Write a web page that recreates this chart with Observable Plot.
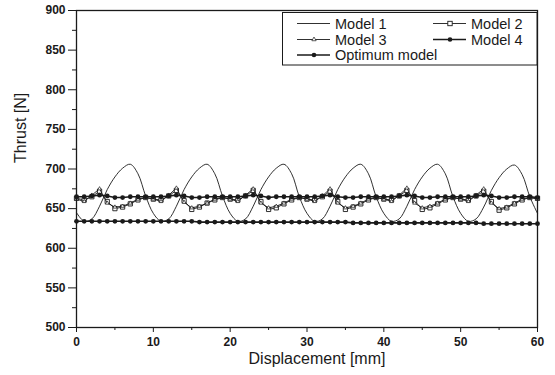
<!DOCTYPE html>
<html><head><meta charset="utf-8">
<script src="https://cdn.jsdelivr.net/npm/d3@7"></script>
<script src="https://cdn.jsdelivr.net/npm/@observablehq/plot@0.6"></script>
<style>
body{margin:0;background:#fff}
#chart{position:relative;width:555px;height:375px}
svg{font-family:"Liberation Sans",Arial,sans-serif}
</style>
</head><body><div id="chart"></div>
<script>
// Displacement grid [mm]
const displacement = d3.range(0, 61);
// Thrust [N]
const model1 = [645,634,637,653,674,690,701,706,694,666,
                644,634,637,653,674,690,701,706,694,666,
                644,634,637,653,674,690,701,706,694,665,
                644,634,637,653,674,690,701,706,694,665,
                644,634,637,653,674,690,701,706,694,665,
                644,634,637,652,673,689,700,705,693,665,
                644];
const model2 = [663,661,665,672,659,650,652,656,661,664,
                662,661,666,673,660,649,652,657,661,664,
                662,661,666,673,659,649,651,656,661,664,
                662,661,665,672,659,649,652,656,661,664,
                662,661,666,673,660,649,651,656,661,664,
                662,661,666,672,659,648,651,656,661,664,
                663];
const model3 = [662,659,667,675,657,652,653,657,662,664,
                662,659,667,676,658,651,653,657,662,664,
                662,659,667,675,657,651,653,657,662,664,
                662,659,666,675,657,651,653,657,662,664,
                662,659,667,676,657,651,653,657,662,664,
                662,659,667,675,657,650,652,657,662,664,
                662];
const model4 = [665,665,666,667,666,664,664,665,665,665,
                665,665,666,667,666,664,664,665,665,665,
                665,665,666,667,666,664,665,665,665,665,
                665,665,666,667,665,664,664,665,665,665,
                665,665,666,667,666,664,664,665,665,665,
                665,665,666,667,666,664,664,665,665,665,
                664];
const optimum = [634,634,634,634,634,634,634,634,634,634,
                 634,634,634,634,634,634,633,633,633,633,
                 633,633,633,633,633,633,633,633,633,633,
                 633,633,633,633,633,633,632,632,632,632,
                 632,632,632,632,632,632,632,632,632,632,
                 632,632,632,631,631,631,631,631,631,631,
                 631];
const seriesNames = ["Model 1","Model 2","Model 3","Model 4","Optimum model"];
const yTicks = [500,550,600,650,700,750,800,850,900];
const yMinor = [525,575,625,675,725,775,825,875];
const xTicks = [0,10,20,30,40,50,60];
const xMinor = [5,15,25,35,45,55];

const rows = (name, vals) => displacement.map((x, i) => ({series: name, x, y: vals[i]}));
const r1 = rows(seriesNames[0], model1);
const r2 = rows(seriesNames[1], model2);
const r3 = rows(seriesNames[2], model3);
const r4 = rows(seriesNames[3], model4);
const r5 = rows(seriesNames[4], optimum);

const ink = "#1a1a1a";
const chart = Plot.plot({
  width: 555, height: 375,
  marginLeft: 76, marginRight: 18, marginTop: 10, marginBottom: 48,
  style: {fontFamily: '"Liberation Sans", Arial, sans-serif', background: "white", color: ink},
  x: {domain: [0, 60]},
  y: {domain: [500, 900]},
  marks: [
    Plot.line(r1, {x: "x", y: "y", stroke: ink, strokeWidth: 0.9, curve: "catmull-rom"}),
    Plot.line(r2, {x: "x", y: "y", stroke: ink, strokeWidth: 0.9}),
    Plot.dot(r2, {x: "x", y: "y", symbol: "square", r: 2.4, stroke: ink, fill: "white", strokeWidth: 0.9}),
    Plot.line(r3, {x: "x", y: "y", stroke: ink, strokeWidth: 0.9}),
    Plot.dot(r3, {x: "x", y: "y", symbol: "triangle", r: 1.4, stroke: ink, fill: "white", strokeWidth: 0.7}),
    Plot.line(r4, {x: "x", y: "y", stroke: ink, strokeWidth: 1.6}),
    Plot.dot(r4, {x: "x", y: "y", r: 2.4, fill: ink}),
    Plot.line(r5, {x: "x", y: "y", stroke: ink, strokeWidth: 1.6}),
    Plot.dot(r5, {x: "x", y: "y", r: 2.4, fill: ink}),
    Plot.frame({stroke: ink, strokeWidth: 1.3}),
    Plot.axisY({ticks: yTicks, tickSize: 8, tickPadding: 3, fontSize: 12, fontWeight: "bold", label: null}),
    Plot.axisY({ticks: yMinor, tickSize: 4, tickFormat: () => "", label: null}),
    Plot.axisX({ticks: xTicks, tickSize: 5, tickPadding: 5, fontSize: 12, fontWeight: "bold", label: null}),
    Plot.axisX({ticks: xMinor, tickSize: 3, tickFormat: () => "", label: null}),
    Plot.text(["Thrust [N]"], {frameAnchor: "left", dx: -56, dy: -6, rotate: -90, fontSize: 16, fill: ink}),
    Plot.text(["Displacement [mm]"], {frameAnchor: "bottom", dx: 10, dy: 36, fontSize: 16, fill: ink})
  ]
});
document.getElementById("chart").appendChild(chart);

// Legend (drawn inside the plot, top right)
const svg = d3.select(chart);
const lg = svg.append("g").attr("font-size", 14.5).attr("fill", ink).attr("text-anchor", "start");
lg.append("rect").attr("x", 282.5).attr("y", 12.5).attr("width", 254.5).attr("height", 52.5)
  .attr("fill", "white").attr("stroke", ink).attr("stroke-width", 1);
const entries = [
  {name: seriesNames[0], col: 0, row: 0, marker: null, w: 0.9},
  {name: seriesNames[1], col: 1, row: 0, marker: "square", w: 0.9},
  {name: seriesNames[2], col: 0, row: 1, marker: "triangle", w: 0.9},
  {name: seriesNames[3], col: 1, row: 1, marker: "dot", w: 1.4},
  {name: seriesNames[4], col: 0, row: 2, marker: "dot", w: 1.4}
];
const colX = [297, 433], rowY = [23.5, 39.5, 55];
entries.forEach(e => {
  const x0 = colX[e.col], y0 = rowY[e.row];
  lg.append("line").attr("x1", x0).attr("x2", x0 + 33).attr("y1", y0).attr("y2", y0)
    .attr("stroke", ink).attr("stroke-width", e.w);
  const cx = x0 + 17;
  if (e.marker === "square") {
    lg.append("rect").attr("x", cx - 2.2).attr("y", y0 - 2.2).attr("width", 4.4).attr("height", 4.4)
      .attr("fill", "white").attr("stroke", ink).attr("stroke-width", 0.9);
  } else if (e.marker === "triangle") {
    lg.append("path").attr("d", d3.symbol(d3.symbolTriangle, 8)()).attr("transform", `translate(${cx},${y0})`)
      .attr("fill", "white").attr("stroke", ink).attr("stroke-width", 0.7);
  } else if (e.marker === "dot") {
    lg.append("circle").attr("cx", cx).attr("cy", y0).attr("r", 2.3).attr("fill", ink);
  }
  lg.append("text").attr("x", x0 + 38).attr("y", y0).attr("dy", "0.36em").text(e.name);
});
</script>
</body></html>
